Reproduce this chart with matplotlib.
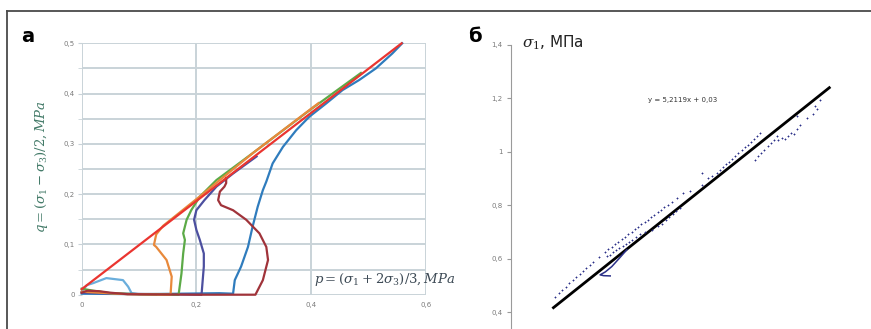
"""
Two-panel figure: stress paths in p-q space (a) and sigma_1 points
with a linear fit (б).
"""
import matplotlib.pyplot as plt
from matplotlib.lines import Line2D
from matplotlib.ticker import FuncFormatter, MultipleLocator

plt.rcParams.update({
    "font.family": ["DejaVu Sans"],
    "mathtext.fontset": "dejavuserif",
    "axes.linewidth": 0.8,
})

# ---- panel a: stress paths, p and q in MPa ----
red_p = [0.0, 0.558]
red_q = [0.011, 0.500]

orange_p = [0.0, 0.03, 0.08, 0.155, 0.157, 0.148, 0.130, 0.126, 0.130, 0.142,
            0.200, 0.300, 0.413]
orange_q = [0.006, 0.004, 0.001, 0.0, 0.036, 0.069, 0.095, 0.099, 0.120, 0.137,
            0.190, 0.283, 0.381]

green_p = [0.0, 0.02, 0.05, 0.10, 0.169, 0.174, 0.177, 0.180, 0.177, 0.183,
           0.191, 0.206, 0.235, 0.300, 0.400, 0.487]
green_q = [0.012, 0.008, 0.003, 0.001, 0.0, 0.042, 0.082, 0.109, 0.122, 0.149,
           0.168, 0.195, 0.228, 0.283, 0.369, 0.441]

navy_p = [0.0, 0.06, 0.15, 0.209, 0.213, 0.213, 0.206, 0.200, 0.196, 0.200,
          0.214, 0.235, 0.264, 0.305]
navy_q = [0.004, 0.002, 0.001, 0.0, 0.056, 0.082, 0.109, 0.129, 0.149, 0.168,
          0.188, 0.215, 0.241, 0.275]

brown_p = [0.0, 0.01, 0.03, 0.05, 0.08, 0.20, 0.303, 0.316, 0.325, 0.322,
           0.310, 0.287, 0.264, 0.243, 0.238, 0.241, 0.249, 0.252, 0.252]
brown_q = [0.004, 0.008, 0.007, 0.004, 0.001, 0.0, 0.0, 0.029, 0.069, 0.095,
           0.122, 0.149, 0.168, 0.178, 0.188, 0.205, 0.215, 0.222, 0.232]

blue_p = [0.0, 0.10, 0.24, 0.264, 0.267, 0.278, 0.290, 0.298, 0.307, 0.316,
          0.322, 0.333, 0.351, 0.374, 0.397, 0.426, 0.455, 0.484, 0.513,
          0.542, 0.559]
blue_q = [0.002, 0.001, 0.003, 0.002, 0.029, 0.056, 0.095, 0.135, 0.175, 0.208,
          0.225, 0.261, 0.294, 0.327, 0.354, 0.380, 0.407, 0.427, 0.450,
          0.480, 0.500]

lblue_p = [0.0, 0.009, 0.020, 0.043, 0.072, 0.081, 0.087, 0.100, 0.130]
lblue_q = [0.006, 0.019, 0.023, 0.033, 0.029, 0.016, 0.003, 0.001, 0.0]

# ---- panel б: sigma_1 points (MPa) and fitted line ----
pts_x = [
    # lower-left upper row
    0.0750, 0.0772, 0.0793, 0.0813, 0.0834, 0.0855, 0.0874, 0.0893, 0.0913,
    0.0931, 0.0950, 0.0970, 0.1001,
    # second upper row
    0.1039, 0.1058, 0.1077, 0.1096, 0.1115, 0.1133, 0.1152, 0.1171, 0.1190,
    0.1208, 0.1227, 0.1246, 0.1265, 0.1283, 0.1302, 0.1321, 0.1340, 0.1358,
    0.1377, 0.1396, 0.1420, 0.1449,
    # row hugging the fit
    0.1049, 0.1066, 0.1085, 0.1103, 0.1120, 0.1139, 0.1157, 0.1176, 0.1195,
    0.1214, 0.1240, 0.1268, 0.1306,
    0.1344, 0.1365, 0.1385, 0.1406, 0.1426, 0.1447, 0.1468,
    # scattered points in the middle
    0.1487, 0.1526, 0.1592, 0.1630, 0.1650, 0.1592,
    # upper-right row above the fit
    0.1678, 0.1696, 0.1714, 0.1731, 0.1749, 0.1767, 0.1785, 0.1802, 0.1820,
    0.1838, 0.1855, 0.1873, 0.1891, 0.1908, 0.1926,
    # rows below the fit
    0.1898, 0.1915, 0.1933, 0.1951, 0.1969, 0.1987, 0.2004, 0.2022,
    0.2031, 0.2049, 0.2067, 0.2085, 0.2102, 0.2120, 0.2138, 0.2155,
    0.2136, 0.2193, 0.2231, 0.2251, 0.2241, 0.2270,
]
pts_y = [
    0.458, 0.471, 0.484, 0.495, 0.508, 0.520, 0.531, 0.543, 0.555,
    0.566, 0.578, 0.589, 0.608,
    0.627, 0.636, 0.645, 0.655, 0.664, 0.673, 0.683, 0.692, 0.701,
    0.710, 0.719, 0.729, 0.738, 0.747, 0.756, 0.765, 0.774, 0.783,
    0.792, 0.800, 0.813, 0.828,
    0.609, 0.616, 0.624, 0.632, 0.640, 0.648, 0.656, 0.664, 0.672,
    0.681, 0.691, 0.702, 0.709,
    0.721, 0.732, 0.744, 0.755, 0.767, 0.778, 0.790,
    0.846, 0.855, 0.877, 0.902, 0.908, 0.921,
    0.921, 0.932, 0.942, 0.953, 0.963, 0.974, 0.985, 0.995, 1.006,
    1.017, 1.027, 1.038, 1.049, 1.059, 1.071,
    0.971, 0.984, 0.996, 1.008, 1.021, 1.033, 1.045, 1.058,
    1.046, 1.052, 1.050, 1.061, 1.072, 1.068, 1.085, 1.102,
    1.133, 1.127, 1.140, 1.159, 1.171, 1.196,
]
curl_x = [0.1163, 0.1120, 0.1077, 0.1040, 0.1010, 0.1030, 0.1068]
curl_y = [0.634, 0.602, 0.571, 0.551, 0.540, 0.537, 0.536]

fit_slope = 5.2119
fit_icpt = 0.03
fit_x = [0.0743, 0.2322]

GRID = "#c9d3d8"
TICK = "#7a7a7a"


def comma(v, _pos):
    s = f"{v:.1f}".replace(".", ",")
    return "1" if s == "1,0" else ("0" if s == "0,0" else s)


fig = plt.figure(figsize=(8.71, 3.29), dpi=100)

# outer frame: only top and left edges fall inside the picture
fx = 7 / 871
fy = 1 - 10.5 / 329
fig.add_artist(Line2D([fx, 1.0], [fy, fy], color="#4a4a4a", lw=1.3,
                      transform=fig.transFigure))
fig.add_artist(Line2D([fx, fx], [0.0, fy], color="#4a4a4a", lw=1.3,
                      transform=fig.transFigure))

# ---- panel a ----
ax = fig.add_axes([81.7 / 871, 34.3 / 329, 344 / 871, 251.4 / 329])
ax.set_xlim(0, 0.6)
ax.set_ylim(0, 0.5)
for s in ax.spines.values():
    s.set_visible(False)
ax.xaxis.set_major_locator(MultipleLocator(0.2))
ax.yaxis.set_major_locator(MultipleLocator(0.1))
ax.yaxis.set_minor_locator(MultipleLocator(0.05))
ax.xaxis.set_major_formatter(FuncFormatter(comma))
ax.yaxis.set_major_formatter(FuncFormatter(comma))
ax.grid(True, which="both", color=GRID, lw=1.4)
ax.set_axisbelow(True)
ax.tick_params(axis="x", length=0, pad=5, labelsize=5, labelcolor=TICK)
ax.tick_params(axis="y", which="both", length=3, color=GRID, pad=2,
               labelsize=5, labelcolor=TICK)

lw = 1.6
ax.plot(lblue_p, lblue_q, color="#6aaedc", lw=lw, clip_on=False)
ax.plot(blue_p, blue_q, color="#2f7cbd", lw=lw, clip_on=False)
ax.plot(navy_p, navy_q, color="#4c4f9f", lw=lw, clip_on=False)
ax.plot(green_p, green_q, color="#5caa47", lw=lw, clip_on=False)
ax.plot(orange_p, orange_q, color="#e8893b", lw=lw, clip_on=False)
ax.plot(brown_p, brown_q, color="#a0333a", lw=lw, clip_on=False)
ax.plot(red_p, red_q, color="#ea3530", lw=lw, clip_on=False)

ax.text(0.405, 0.031, r"$p=(\sigma_1+2\sigma_3)/3,MPa$", fontsize=9.5,
        color="#3e4b56", ha="left", va="center")
fig.text(41 / 871, 1 - 167 / 329, r"$q=(\sigma_1-\sigma_3)/2,MPa$",
         fontsize=9.5, color="#437a68", rotation=90, ha="center", va="center")
fig.text(28 / 871, 1 - 36 / 329, "а", fontsize=14, fontweight="bold",
         ha="center", va="center")

# ---- panel б ----
bx = fig.add_axes([511 / 871, 0.0, 349.4 / 871, 284 / 329])
bx.set_xlim(0.05, 0.25)
bx.set_ylim(0.3374, 1.4)
for side in ("top", "right", "bottom"):
    bx.spines[side].set_visible(False)
bx.spines["left"].set_color("#9a9a9a")
bx.set_xticks([])
bx.yaxis.set_major_locator(MultipleLocator(0.2))
bx.yaxis.set_major_formatter(FuncFormatter(comma))
bx.tick_params(axis="y", length=3, color="#9a9a9a", pad=3,
               labelsize=5, labelcolor=TICK)

fit_y = [fit_slope * x + fit_icpt for x in fit_x]
bx.plot(fit_x, fit_y, color="black", lw=2.0)
bx.plot(pts_x, pts_y, ls="none", marker="+", ms=1.8, mew=0.6,
        color="#2b3088")
bx.plot(curl_x, curl_y, color="#2b3088", lw=1.1)
bx.text(0.1485, 1.195,
        f"y = {fit_slope:.4f}x + {fit_icpt:.2f}".replace(".", ","),
        fontsize=5, color="#333333", ha="center", va="center")

fig.text(522 / 871, 1 - 43 / 329, r"$\sigma_1$, МПа", fontsize=11,
         ha="left", va="center", color="#222222")
fig.text(475 / 871, 1 - 36 / 329, "б", fontsize=14, fontweight="bold",
         ha="center", va="center")

fig.savefig("out.png", dpi=100)
